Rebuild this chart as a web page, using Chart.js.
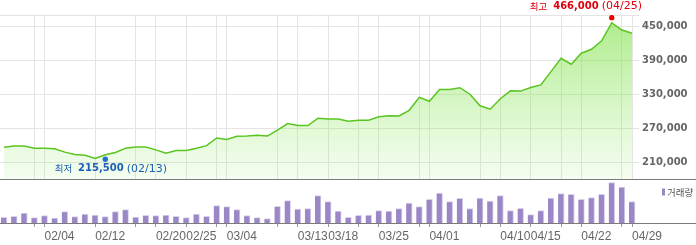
<!DOCTYPE html>
<html><head><meta charset="utf-8">
<script src="https://cdn.jsdelivr.net/npm/chart.js@4/dist/chart.umd.min.js"></script>
<style>
html,body{margin:0;padding:0;background:#fff;}
#wrap{position:relative;width:696px;height:245px;overflow:hidden;}
canvas{position:absolute;left:0;}
#price{top:0;}
#vol{top:180px;}
</style></head><body>
<div id="wrap"><canvas id="price" width="696" height="180"></canvas><canvas id="vol" width="696" height="65"></canvas></div>
<script>
// ---- data ----
const dates = ["01/29","01/30","01/31","02/01","02/04","02/05","02/06","02/07","02/08","02/12",
  "02/13","02/14","02/15","02/18","02/19","02/20","02/21","02/22","02/25","02/26",
  "02/27","02/28","03/04","03/05","03/06","03/07","03/08","03/11","03/12","03/13",
  "03/14","03/15","03/18","03/19","03/20","03/21","03/22","03/25","03/26","03/27",
  "03/28","03/29","04/01","04/02","04/03","04/04","04/05","04/08","04/09","04/10",
  "04/11","04/12","04/15","04/16","04/17","04/18","04/19","04/22","04/23","04/24",
  "04/25","04/26","04/29"];
const closes = [236500,239000,239000,235000,235000,234000,228000,224000,222500,217000,
  223500,227500,235000,237000,237000,232000,226000,231000,231000,235000,
  239500,253000,250500,256000,256500,258000,256500,267000,278500,275000,
  275000,288000,286500,286500,282500,284500,284500,290500,292500,292000,
  302000,325000,318000,339000,339000,342000,330500,310000,304000,322500,
  336500,336000,342500,347000,370500,394000,383500,403000,410000,425000,
  457000,444000,438500];
const volumes = [57000,67000,100000,53000,73000,50000,113000,63000,90000,80000,
  63000,113000,133000,60000,77000,73000,80000,67000,53000,90000,
  67000,173000,163000,133000,73000,53000,43000,167000,223000,140000,
  143000,273000,213000,120000,57000,77000,80000,123000,120000,143000,
  200000,163000,237000,300000,213000,247000,143000,250000,220000,273000,
  123000,147000,83000,123000,250000,293000,287000,237000,253000,287000,
  403000,360000,213000];
const priceTicks = [210000,270000,330000,390000,450000];
const gridDates = ["02/01","02/04","02/12","02/18","02/20","02/25","02/28","03/04","03/11","03/13",
  "03/18","03/21","03/25","03/29","04/01","04/08","04/10","04/15","04/18","04/22","04/26","04/29"];
const tickLabels = ["02/04","02/12","02/20","02/25","03/04","03/13","03/18","03/25","04/01","04/10","04/15","04/22","04/29"];
const lowPoint = {label:"최저", date:"02/13", value:215500};
const highPoint = {label:"최고", date:"04/25", value:466000};
const volumeLabel = "거래량";

// ---- derived ----
const gridIdx = gridDates.map(d => dates.indexOf(d));
const labelMap = {};
tickLabels.forEach(d => { labelMap[dates.indexOf(d)] = d; });
const X_MIN = -0.395, X_MAX = 62.69;
const Y_MIN = 180450, Y_MAX = 470700;

const HANGUL = '"Noto Sans CJK KR", sans-serif';

function noPad(s) { s.paddingLeft = 0; s.paddingRight = 0; s.paddingTop = 0; s.paddingBottom = 0; }

function drawMarkLabel(ctx, parts, startX, cy, color) {
  let x = startX;
  ctx.fillStyle = color;
  ctx.textBaseline = 'middle';
  ctx.textAlign = 'left';
  parts.forEach(p => {
    ctx.font = p.font;
    ctx.fillText(p.t, x, cy);
    x += ctx.measureText(p.t).width + (p.gap || 0);
  });
}
function measureParts(ctx, parts) {
  let w = 0;
  parts.forEach(p => { ctx.font = p.font; w += ctx.measureText(p.t).width + (p.gap || 0); });
  return w;
}

const priceDecor = {
  id: 'priceDecor',
  afterDraw(chart) {
    const ctx = chart.ctx, ca = chart.chartArea;
    const xs = chart.scales.x, ys = chart.scales.y;
    ctx.save();
    ctx.strokeStyle = '#7a7a7a';
    ctx.lineWidth = 1;
    ctx.beginPath();
    ctx.moveTo(0, ca.bottom + 0.5);
    ctx.lineTo(chart.width, ca.bottom + 0.5);
    ctx.stroke();
    const lx = xs.getPixelForValue(dates.indexOf(lowPoint.date));
    const ly = ys.getPixelForValue(lowPoint.value);
    const lowParts = [
      {t: lowPoint.label, font: '9.5px ' + HANGUL, gap: 6},
      {t: lowPoint.value.toLocaleString('en-US'), font: 'bold 10px "DejaVu Sans"', gap: 3},
      {t: '(' + lowPoint.date + ')', font: '11px "DejaVu Sans"'}
    ];
    const lw = measureParts(ctx, lowParts);
    drawMarkLabel(ctx, lowParts, lx + 5.5 - lw / 2, ly + 9.5, '#1d5fb5');
    const hx = xs.getPixelForValue(dates.indexOf(highPoint.date));
    const hy = ys.getPixelForValue(highPoint.value);
    const highParts = [
      {t: highPoint.label, font: '9.5px ' + HANGUL, gap: 6},
      {t: highPoint.value.toLocaleString('en-US'), font: 'bold 10px "DejaVu Sans"', gap: 3},
      {t: '(' + highPoint.date + ')', font: '11px "DejaVu Sans"'}
    ];
    const hw = measureParts(ctx, highParts);
    const hStart = Math.min(hx - hw / 2, ca.right + 3 - hw);
    drawMarkLabel(ctx, highParts, hStart, hy - 11.5, '#e0000b');
    ctx.restore();
  }
};

const volDecor = {
  id: 'volDecor',
  afterDraw(chart) {
    const ctx = chart.ctx, ca = chart.chartArea;
    ctx.save();
    ctx.strokeStyle = '#7a7a7a';
    ctx.lineWidth = 1;
    ctx.beginPath();
    ctx.moveTo(0, ca.bottom + 0.5);
    ctx.lineTo(chart.width, ca.bottom + 0.5);
    ctx.stroke();
    const ds = chart.data.datasets[0];
    const lx = ca.right + 23;
    ctx.fillStyle = ds.backgroundColor;
    ctx.fillRect(lx, 8.5, 3, 7);
    ctx.fillStyle = '#555';
    ctx.font = '9.5px ' + HANGUL;
    ctx.textBaseline = 'middle';
    ctx.textAlign = 'left';
    ctx.fillText(ds.label, lx + 5, 12.5);
    ctx.restore();
  }
};

new Chart(document.getElementById('price'), {
  type: 'line',
  data: {
    datasets: [
      {
        type: 'scatter',
        label: 'hl',
        data: [
          {x: dates.indexOf(lowPoint.date), y: lowPoint.value},
          {x: dates.indexOf(highPoint.date), y: highPoint.value}
        ],
        showLine: false,
        pointRadius: 2.7,
        pointBorderWidth: 0,
        pointBackgroundColor: ['#1f6fd1', '#ee0000'],
        order: 0
      },
      {
        label: '종가',
        data: closes.map((v, i) => ({x: i, y: v})),
        borderColor: '#5ac51f',
        borderWidth: 1.5,
        pointRadius: 0,
        tension: 0,
        fill: 'start',
        backgroundColor: (c) => {
          const ca = c.chart.chartArea;
          if (!ca) return 'rgba(120,222,60,0.3)';
          const g = c.chart.ctx.createLinearGradient(0, ca.top, 0, ca.bottom);
          g.addColorStop(0, 'rgba(120,222,60,0.62)');
          g.addColorStop(1, 'rgba(150,235,110,0.10)');
          return g;
        },
        order: 1
      }
    ]
  },
  options: {
    responsive: false,
    animation: false,
    devicePixelRatio: 1,
    layout: {autoPadding: false, padding: {top: 15, left: 0, right: 0, bottom: 1}},
    plugins: {legend: {display: false}, tooltip: {enabled: false}},
    scales: {
      x: {
        type: 'linear', min: X_MIN, max: X_MAX, offset: false,
        afterBuildTicks: s => { s.ticks = gridIdx.map(v => ({value: v})); },
        afterFit: s => { s.height = 0; noPad(s); },
        ticks: {display: false},
        grid: {color: '#e4e4e4', drawTicks: false, offset: false},
        border: {display: false}
      },
      y: {
        position: 'right', min: Y_MIN, max: Y_MAX,
        afterBuildTicks: s => { s.ticks = priceTicks.concat([Y_MAX]).map(v => ({value: v})); },
        afterFit: s => { s.width = 57; noPad(s); },
        ticks: {
          padding: 3, color: '#666',
          font: {family: 'DejaVu Sans', size: 10, weight: 'bold'},
          callback: v => priceTicks.includes(v) ? v.toLocaleString('en-US') : ''
        },
        grid: {color: '#e4e4e4', drawTicks: false},
        border: {display: false}
      }
    }
  },
  plugins: [priceDecor]
});

new Chart(document.getElementById('vol'), {
  type: 'bar',
  data: {
    datasets: [{
      label: volumeLabel,
      data: volumes.map((v, i) => ({x: i, y: v})),
      backgroundColor: '#9b87c6',
      borderColor: '#d9d0ec',
      borderWidth: {top: 1, right: 1, left: 0, bottom: 0},
      barThickness: 6
    }]
  },
  options: {
    responsive: false,
    animation: false,
    devicePixelRatio: 1,
    layout: {autoPadding: false, padding: {top: 1, left: 0, right: 57, bottom: 0}},
    plugins: {legend: {display: false}, tooltip: {enabled: false}},
    scales: {
      x: {
        type: 'linear', min: X_MIN, max: X_MAX, offset: false,
        afterBuildTicks: s => { s.ticks = gridIdx.map(v => ({value: v})); },
        afterFit: s => { s.height = 22; noPad(s); },
        ticks: {
          autoSkip: false, maxRotation: 0, align: 'start', padding: 2,
          color: '#666', font: {family: 'Liberation Sans', size: 12},
          callback: v => labelMap[v] || ''
        },
        grid: {drawOnChartArea: false, drawTicks: true, tickLength: 4, color: '#999', offset: false},
        border: {display: false}
      },
      y: {display: false, min: 0, max: 420000, afterFit: s => { noPad(s); }}
    }
  },
  plugins: [volDecor]
});
</script>
</body></html>
